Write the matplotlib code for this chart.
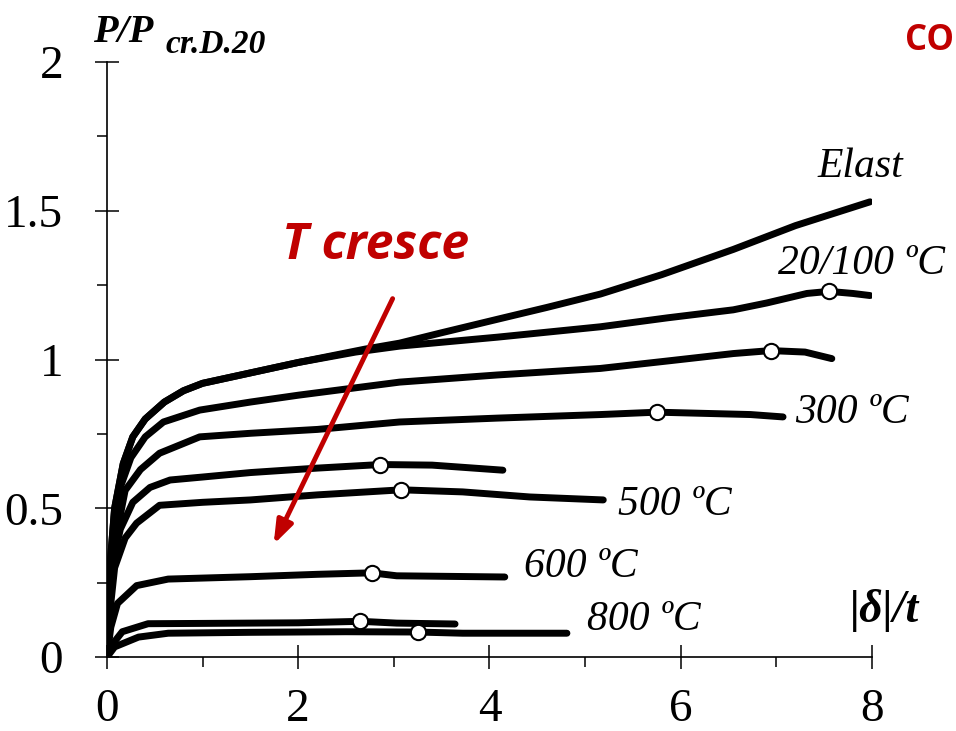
import matplotlib.pyplot as plt
from matplotlib.ticker import MultipleLocator

plt.rcParams['font.family'] = 'Liberation Serif'

# load-displacement curves (normalised), one per temperature
elast_x = [0, 0.03, 0.08, 0.17, 0.27, 0.4, 0.6, 0.8, 1.0, 1.5, 2.0, 2.7, 3.06, 3.5, 4.08, 4.6, 5.16, 5.8, 6.55, 7.2, 7.98]
elast_y = [0, 0.3, 0.5, 0.65, 0.74, 0.80, 0.857, 0.895, 0.92, 0.955, 0.99, 1.035, 1.055, 1.09, 1.135, 1.175, 1.22, 1.285, 1.37, 1.45, 1.53]

t20_x = [0, 0.03, 0.08, 0.17, 0.27, 0.4, 0.6, 0.8, 1.0, 1.5, 2.0, 2.6, 3.06, 4.08, 5.16, 5.86, 6.55, 6.9, 7.32, 7.55, 7.8, 7.98]
t20_y = [0, 0.3, 0.5, 0.65, 0.74, 0.80, 0.857, 0.895, 0.92, 0.955, 0.99, 1.025, 1.045, 1.075, 1.11, 1.14, 1.167, 1.19, 1.222, 1.229, 1.222, 1.215]

t200_x = [0, 0.03, 0.08, 0.15, 0.25, 0.4, 0.59, 0.97, 1.5, 2.0, 3.06, 4.08, 5.16, 5.86, 6.55, 6.94, 7.3, 7.58]
t200_y = [0, 0.25, 0.45, 0.58, 0.67, 0.74, 0.79, 0.83, 0.857, 0.88, 0.924, 0.948, 0.97, 0.995, 1.02, 1.03, 1.025, 1.003]

t300_x = [0, 0.03, 0.08, 0.19, 0.35, 0.55, 0.97, 1.5, 2.2, 3.06, 4.08, 5.16, 5.75, 6.73, 7.07]
t300_y = [0, 0.2, 0.38, 0.56, 0.63, 0.685, 0.74, 0.752, 0.765, 0.79, 0.803, 0.815, 0.823, 0.815, 0.807]

t400_x = [0, 0.03, 0.07, 0.14, 0.27, 0.45, 0.66, 1.0, 1.5, 2.2, 2.86, 3.4, 4.14]
t400_y = [0, 0.18, 0.33, 0.43, 0.52, 0.57, 0.595, 0.605, 0.62, 0.635, 0.647, 0.645, 0.628]

t500_x = [0, 0.03, 0.08, 0.19, 0.31, 0.55, 1.0, 1.5, 2.2, 3.08, 3.72, 4.42, 5.19]
t500_y = [0, 0.15, 0.3, 0.40, 0.45, 0.51, 0.52, 0.528, 0.545, 0.562, 0.555, 0.538, 0.528]

t600_x = [0, 0.04, 0.11, 0.31, 0.64, 1.5, 2.2, 2.77, 3.03, 4.16]
t600_y = [0, 0.1, 0.18, 0.24, 0.262, 0.27, 0.278, 0.283, 0.273, 0.269]

t700_x = [0, 0.05, 0.16, 0.43, 1.0, 2.0, 2.65, 3.03, 3.64]
t700_y = [0, 0.04, 0.085, 0.112, 0.113, 0.115, 0.12, 0.114, 0.111]

t800_x = [0, 0.08, 0.33, 0.64, 1.5, 2.5, 3.25, 3.72, 4.81]
t800_y = [0, 0.034, 0.067, 0.08, 0.083, 0.085, 0.084, 0.08, 0.08]

# maximum load points
peak_x = [7.55, 6.94, 5.75, 2.86, 3.08, 2.77, 2.65, 3.25]
peak_y = [1.229, 1.03, 0.823, 0.647, 0.562, 0.283, 0.12, 0.084]

curves = [(elast_x, elast_y), (t20_x, t20_y), (t200_x, t200_y), (t300_x, t300_y),
          (t400_x, t400_y), (t500_x, t500_y), (t600_x, t600_y), (t700_x, t700_y),
          (t800_x, t800_y)]

labels = ['Elast', '20/100 ºC', '300 ºC', '500 ºC', '600 ºC', '800 ºC']
label_x = [7.88, 7.89, 7.79, 5.94, 4.95, 5.61]
label_y = [1.647, 1.321, 0.82, 0.511, 0.303, 0.124]

red = '#C00000'

fig = plt.figure(figsize=(9.56, 7.31), dpi=100)
ax = fig.add_axes([0.1119, 0.1012, 0.8002, 0.814])

for cx, cy in curves:
    ax.plot(cx, cy, color='black', lw=5, solid_capstyle='round', solid_joinstyle='round', zorder=2)
ax.plot(peak_x, peak_y, 'o', ms=11, mfc='white', mec='black', mew=1.5, zorder=3)

for lab, lx, ly in zip(labels, label_x, label_y):
    ax.text(lx, ly, lab, fontsize=30, style='italic', ha='center', va='center')

# arrow showing increasing temperature
ax.annotate('', xy=(1.73, 0.37), xytext=(3.0, 1.213),
            arrowprops=dict(arrowstyle='-|>,head_length=1.4,head_width=0.5', color=red, lw=3.5))
ax.text(2.81, 1.38, 'T cresce', color=red, fontsize=36, family='Open Sans',
        weight='bold', style='italic', ha='center', va='center')

ax.set_xlim(0, 8)
ax.set_ylim(0, 2)
ax.spines['top'].set_visible(False)
ax.spines['right'].set_visible(False)
for s in ['left', 'bottom']:
    ax.spines[s].set_linewidth(1.2)
ax.xaxis.set_major_locator(MultipleLocator(2))
ax.xaxis.set_minor_locator(MultipleLocator(1))
ax.yaxis.set_major_locator(MultipleLocator(0.5))
ax.yaxis.set_minor_locator(MultipleLocator(0.25))
ax.set_yticks([0, 0.5, 1, 1.5, 2], ['0', '0.5', '1', '1.5', '2'])
ax.tick_params(which='major', direction='inout', length=17, width=1.1, labelsize=34)
ax.tick_params(which='minor', direction='out', length=7, width=1.1)
ax.tick_params(axis='x', which='major', pad=14)
ax.tick_params(axis='y', which='major', pad=23)

fig.text(93 / 956, 1 - 42 / 731, 'P/P', fontsize=29, weight='bold', style='italic', va='baseline')
fig.text(166 / 956, 1 - 53 / 731, 'cr.D.20', fontsize=24, weight='bold', style='italic', va='baseline')
fig.text(885 / 956, 1 - 610 / 731, '|δ|/t', fontsize=33,
         weight='bold', style='italic', ha='center', va='center')
fig.text(905 / 956, 1 - 41 / 731, 'CO', color=red, fontsize=25, family='Open Sans',
         weight='bold', va='center')

fig.savefig('out.png', dpi=100)
